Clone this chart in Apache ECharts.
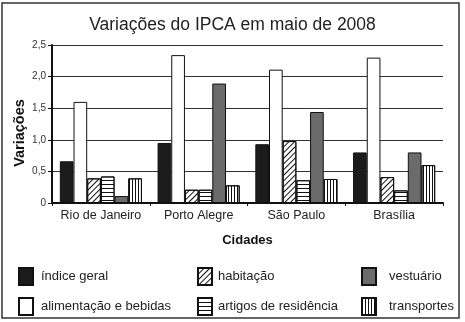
<!DOCTYPE html>
<html>
<head>
<meta charset="utf-8">
<script src="https://cdn.jsdelivr.net/npm/echarts@6/dist/echarts.min.js"></script>
<style>html,body{margin:0;padding:0;background:#fff;}#c{width:465px;height:322px;}</style>
</head>
<body>
<div id="c"></div>
<script>
var categories = ['Rio de Janeiro', 'Porto Alegre', 'São Paulo', 'Brasília'];
var seriesNames = ['índice geral', 'alimentação e bebidas', 'habitação', 'artigos de residência', 'vestuário', 'transportes'];
var indiceGeral = [0.66, 0.95, 0.93, 0.80];
var alimentacao = [1.60, 2.34, 2.11, 2.30];
var habitacao = [0.39, 0.21, 0.98, 0.41];
var artigos = [0.42, 0.21, 0.36, 0.20];
var vestuario = [0.11, 1.89, 1.44, 0.80];
var transportes = [0.39, 0.28, 0.38, 0.60];

var FONT = 'Liberation Sans, Arial, sans-serif';
var chart = echarts.init(document.getElementById('c'));

function bar(name, data, color, decal) {
  var s = {
    name: name, type: 'bar', data: data,
    barGap: '0%', barCategoryGap: '16%',
    itemStyle: { color: color, borderColor: '#111', borderWidth: 1 }
  };
  if (decal) s.itemStyle.decal = decal;
  return s;
}
var legendLeft = [18, 18, 197, 197, 361, 361];
var legendTop = [267, 297, 267, 297, 267, 297];
var legendPad = [3, 3, 1, 1, 8, 8];
var legends = seriesNames.map(function (n, i) {
  return {
    data: [n], left: legendLeft[i], top: legendTop[i], padding: 0,
    icon: 'rect', itemWidth: 14, itemHeight: 17,
    textStyle: { fontFamily: FONT, fontSize: 13, color: '#222', padding: [0, 0, 0, legendPad[i]] }
  };
});

chart.setOption({
  animation: false,
  backgroundColor: '#fff',
  title: {
    text: 'Variações do IPCA em maio de 2008', left: 'center', top: 11,
    textStyle: { fontFamily: FONT, fontSize: 17.5, fontWeight: 'normal', color: '#222' }
  },
  graphic: [{
    type: 'rect', shape: { x: 2, y: 3, width: 457, height: 315 },
    style: { fill: 'none', stroke: '#333', lineWidth: 1.5 }, silent: true, z: 0
  }],
  legend: legends,
  grid: { left: 52, right: 22, top: 45, bottom: 119 },
  xAxis: {
    type: 'category', data: categories,
    name: 'Cidades', nameLocation: 'middle', nameGap: 31,
    nameTextStyle: { fontFamily: FONT, fontSize: 13, fontWeight: 'bold', color: '#111' },
    axisLine: { lineStyle: { color: '#111', width: 2 } },
    axisTick: { show: true, length: 3, lineStyle: { color: '#111' } },
    axisLabel: { interval: 0, fontFamily: FONT, fontSize: 12.5, color: '#222', margin: 6 }
  },
  yAxis: {
    type: 'value', min: 0, max: 2.5, interval: 0.5,
    name: 'Variações', nameLocation: 'middle', nameGap: 25, nameRotate: 90, nameMoveOverlap: false,
    nameTextStyle: { fontFamily: FONT, fontSize: 14.5, fontWeight: 'bold', color: '#111', padding: [0, 18, 0, 0] },
    axisLine: { show: true, lineStyle: { color: '#111', width: 2 } },
    axisTick: { show: true, length: 4, lineStyle: { color: '#111' } },
    axisLabel: {
      fontFamily: FONT, fontSize: 10, color: '#333', margin: 6,
      formatter: function (v) { return v === 0 ? '0' : v.toFixed(1).replace('.', ','); }
    },
    splitLine: { show: true, lineStyle: { color: '#333', width: 1 } }
  },
  series: [
    bar(seriesNames[0], indiceGeral, '#1b1b1b'),
    bar(seriesNames[1], alimentacao, '#ffffff'),
    bar(seriesNames[2], habitacao, '#ffffff', { symbol: 'rect', color: '#111', dashArrayX: [1, 0], dashArrayY: [1, 2.5], rotation: -Math.PI / 4, symbolSize: 1 }),
    bar(seriesNames[3], artigos, '#ffffff', { symbol: 'rect', color: '#111', dashArrayX: [1, 0], dashArrayY: [1, 2.5], rotation: 0, symbolSize: 1 }),
    bar(seriesNames[4], vestuario, '#6b6b6b'),
    bar(seriesNames[5], transportes, '#ffffff', { symbol: 'rect', color: '#111', dashArrayX: [1, 2], dashArrayY: [1, 0], rotation: 0, symbolSize: 1 })
  ]
});
</script>
</body>
</html>
